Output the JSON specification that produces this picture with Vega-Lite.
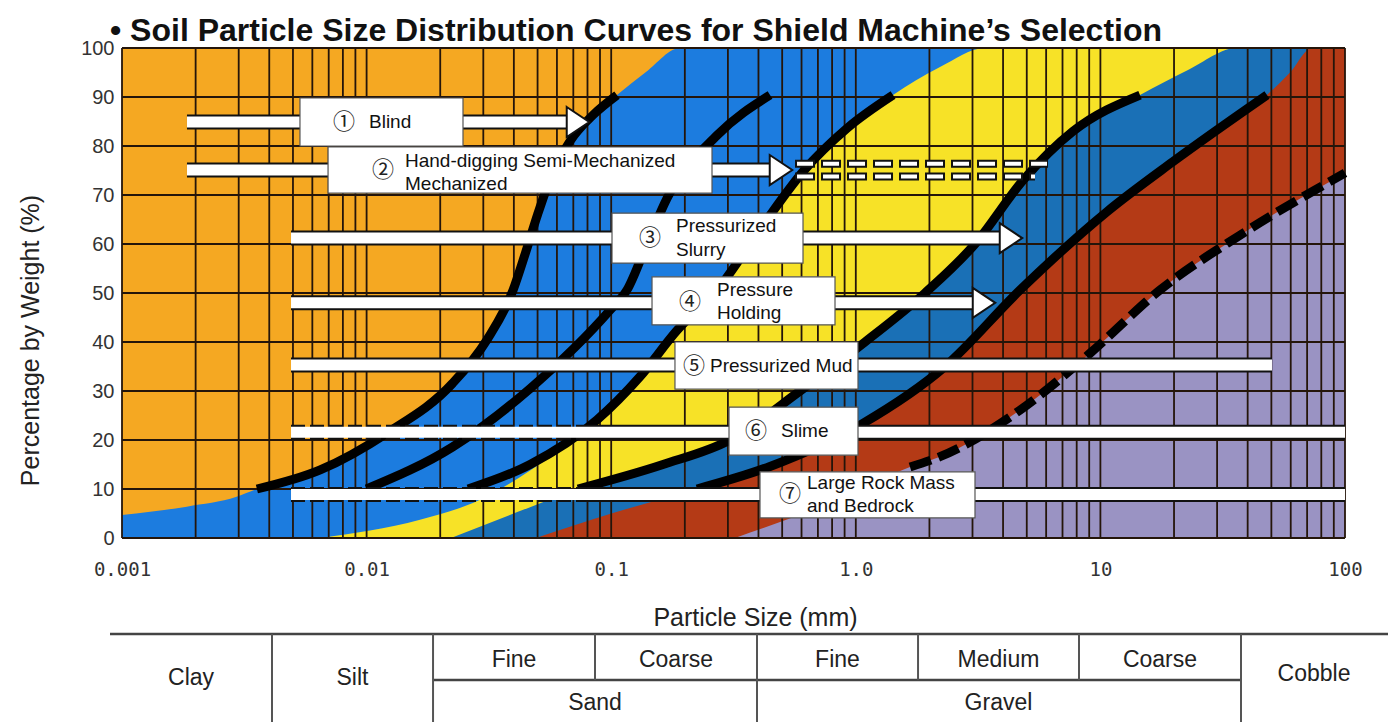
{
  "$schema": "https://vega.github.io/schema/vega-lite/v6.json",
  "width": 1223,
  "height": 490,
  "autosize": {"type": "none"},
  "padding": {"left": 122, "top": 48, "right": 43, "bottom": 184},
  "background": "white",
  "view": {"fill": "#F5A822", "stroke": null},
  "title": {
    "text": "• Soil Particle Size Distribution Curves for Shield Machine’s Selection",
    "anchor": "start", "frame": "group", "font": "Liberation Sans",
    "fontSize": 32, "fontWeight": "bold", "color": "#111", "offset": 8, "baseline": "alphabetic", "dx": -12, "dy": 43
  },
  "datasets": {
    "blue": [
      {"x": 0.001, "y": 4.7}, {"x": 0.00184, "y": 6.4}, {"x": 0.00294, "y": 8.4}, {"x": 0.00356, "y": 10},
      {"x": 0.00646, "y": 13.9}, {"x": 0.0121, "y": 21.4}, {"x": 0.0225, "y": 31.6}, {"x": 0.031, "y": 40.4},
      {"x": 0.0397, "y": 50.6}, {"x": 0.0445, "y": 58}, {"x": 0.05, "y": 66}, {"x": 0.057, "y": 74},
      {"x": 0.0679, "y": 81}, {"x": 0.085, "y": 86.5}, {"x": 0.1056, "y": 90.4}, {"x": 0.1396, "y": 95.2},
      {"x": 0.191, "y": 100}, {"x": 100, "y": 100}
    ],
    "yellow": [
      {"x": 0.00646, "y": 0}, {"x": 0.01653, "y": 3.7}, {"x": 0.02908, "y": 7.8}, {"x": 0.0466, "y": 13.8},
      {"x": 0.0875, "y": 24.1}, {"x": 0.131, "y": 32.9}, {"x": 0.186, "y": 42.4}, {"x": 0.271, "y": 50.6},
      {"x": 0.418, "y": 63.9}, {"x": 0.609, "y": 74.8}, {"x": 0.92, "y": 83.6}, {"x": 1.42, "y": 90.4},
      {"x": 2.209, "y": 96.1}, {"x": 3.375, "y": 100}, {"x": 100, "y": 100}
    ],
    "teal": [
      {"x": 0.02214, "y": 0}, {"x": 0.0466, "y": 6.3}, {"x": 0.07315, "y": 10}, {"x": 0.16278, "y": 15},
      {"x": 0.30598, "y": 20}, {"x": 0.59131, "y": 30}, {"x": 1.0904, "y": 40}, {"x": 1.9183, "y": 50},
      {"x": 3.0711, "y": 60}, {"x": 4.8273, "y": 73}, {"x": 7.7268, "y": 83}, {"x": 14.522, "y": 90.4},
      {"x": 22.81, "y": 95.5}, {"x": 36.18, "y": 100}, {"x": 100, "y": 100}
    ],
    "red": [
      {"x": 0.04928, "y": 0}, {"x": 0.10172, "y": 5.1}, {"x": 0.22429, "y": 10}, {"x": 0.44588, "y": 14.6},
      {"x": 1.0701, "y": 23.4}, {"x": 2.3156, "y": 35}, {"x": 4.6924, "y": 50.6}, {"x": 10.642, "y": 66.6},
      {"x": 19.809, "y": 76.8}, {"x": 47.983, "y": 90.4}, {"x": 59.6, "y": 95}, {"x": 73.3, "y": 100},
      {"x": 100, "y": 100}
    ],
    "purple": [
      {"x": 0.3207, "y": 0}, {"x": 0.8618, "y": 8}, {"x": 1.666, "y": 14.5}, {"x": 2.209, "y": 16.6},
      {"x": 4.692, "y": 26.1}, {"x": 9.069, "y": 37.7}, {"x": 17.52, "y": 50.6}, {"x": 37.21, "y": 61.8},
      {"x": 100, "y": 74.5}
    ],
    "gridx": [
      {"x": 0.001}, {"x": 0.002}, {"x": 0.003}, {"x": 0.004}, {"x": 0.005}, {"x": 0.006}, {"x": 0.007}, {"x": 0.008}, {"x": 0.009},
      {"x": 0.01}, {"x": 0.02}, {"x": 0.03}, {"x": 0.04}, {"x": 0.05}, {"x": 0.06}, {"x": 0.07}, {"x": 0.08}, {"x": 0.09},
      {"x": 0.1}, {"x": 0.2}, {"x": 0.3}, {"x": 0.4}, {"x": 0.5}, {"x": 0.6}, {"x": 0.7}, {"x": 0.8}, {"x": 0.9},
      {"x": 1}, {"x": 2}, {"x": 3}, {"x": 4}, {"x": 5}, {"x": 6}, {"x": 7}, {"x": 8}, {"x": 9},
      {"x": 10}, {"x": 20}, {"x": 30}, {"x": 40}, {"x": 50}, {"x": 60}, {"x": 70}, {"x": 80}, {"x": 90}, {"x": 100}
    ],
    "gridy": [
      {"y": 0}, {"y": 10}, {"y": 20}, {"y": 30}, {"y": 40}, {"y": 50}, {"y": 60}, {"y": 70}, {"y": 80}, {"y": 90}, {"y": 100}
    ],
    "curves": [
      {"curve": "1", "x": 0.00356, "y": 10}, {"curve": "1", "x": 0.00646, "y": 13.9}, {"curve": "1", "x": 0.0121, "y": 21.4},
      {"curve": "1", "x": 0.0225, "y": 31.6}, {"curve": "1", "x": 0.031, "y": 40.4}, {"curve": "1", "x": 0.0397, "y": 50.6},
      {"curve": "1", "x": 0.0445, "y": 58}, {"curve": "1", "x": 0.05, "y": 66}, {"curve": "1", "x": 0.057, "y": 74},
      {"curve": "1", "x": 0.0679, "y": 81}, {"curve": "1", "x": 0.085, "y": 86.5}, {"curve": "1", "x": 0.1056, "y": 90.4},
      {"curve": "2", "x": 0.01, "y": 10}, {"curve": "2", "x": 0.0225, "y": 18.6}, {"curve": "2", "x": 0.0466, "y": 30.5},
      {"curve": "2", "x": 0.0989, "y": 46.5}, {"curve": "2", "x": 0.116, "y": 50.6}, {"curve": "2", "x": 0.14, "y": 60},
      {"curve": "2", "x": 0.169, "y": 69.3}, {"curve": "2", "x": 0.271, "y": 82.2}, {"curve": "2", "x": 0.446, "y": 90.4},
      {"curve": "3", "x": 0.026, "y": 10}, {"curve": "3", "x": 0.0466, "y": 15}, {"curve": "3", "x": 0.0875, "y": 24.1},
      {"curve": "3", "x": 0.131, "y": 32.9}, {"curve": "3", "x": 0.186, "y": 42.4}, {"curve": "3", "x": 0.271, "y": 50.6},
      {"curve": "3", "x": 0.418, "y": 63.9}, {"curve": "3", "x": 0.609, "y": 74.8}, {"curve": "3", "x": 0.92, "y": 83.6},
      {"curve": "3", "x": 1.42, "y": 90.4},
      {"curve": "4", "x": 0.07315, "y": 10}, {"curve": "4", "x": 0.16278, "y": 15}, {"curve": "4", "x": 0.30598, "y": 20},
      {"curve": "4", "x": 0.59131, "y": 30}, {"curve": "4", "x": 1.0904, "y": 40}, {"curve": "4", "x": 1.9183, "y": 50},
      {"curve": "4", "x": 3.0711, "y": 60}, {"curve": "4", "x": 4.8273, "y": 73}, {"curve": "4", "x": 7.7268, "y": 83},
      {"curve": "4", "x": 14.522, "y": 90.4},
      {"curve": "5", "x": 0.22429, "y": 10}, {"curve": "5", "x": 0.44588, "y": 14.6}, {"curve": "5", "x": 1.0701, "y": 23.4},
      {"curve": "5", "x": 2.3156, "y": 35}, {"curve": "5", "x": 4.6924, "y": 50.6}, {"curve": "5", "x": 10.642, "y": 66.6},
      {"curve": "5", "x": 19.809, "y": 76.8}, {"curve": "5", "x": 47.983, "y": 90.4}
    ],
    "dashedcurve": [
      {"x": 1.666, "y": 14.5}, {"x": 2.209, "y": 16.6}, {"x": 4.692, "y": 26.1}, {"x": 9.069, "y": 37.7},
      {"x": 17.52, "y": 50.6}, {"x": 37.21, "y": 61.8}, {"x": 100, "y": 74.5}
    ],
    "bars": [
      {"x": 0.0018434, "x2": 0.06659, "y": 84.9},
      {"x": 0.0018434, "x2": 0.44998, "y": 75.1},
      {"x": 0.0049086, "x2": 3.9226, "y": 61.2},
      {"x": 0.0049086, "x2": 3.0422, "y": 48.0},
      {"x": 0.0049086, "x2": 50.294, "y": 35.3},
      {"x": 0.0049086, "x2": 100, "y": 21.6},
      {"x": 0.0049086, "x2": 100, "y": 8.9}
    ],
    "baroutline": [
      {"x": 0.0018434, "x2": 0.06659, "y": 84.9},
      {"x": 0.0018434, "x2": 0.44998, "y": 75.1},
      {"x": 0.0049086, "x2": 3.9226, "y": 61.2},
      {"x": 0.0049086, "x2": 3.0422, "y": 48.0},
      {"x": 0.0049086, "x2": 50.294, "y": 35.3},
      {"x": 0.0796, "x2": 100, "y": 21.6},
      {"x": 0.0796, "x2": 100, "y": 8.9}
    ],
    "baroutlinedashed": [
      {"x": 0.0049086, "x2": 0.0796, "y": 21.6},
      {"x": 0.0049086, "x2": 0.0796, "y": 8.9}
    ],
    "arrows": [
      {"x": 0.07315, "y": 84.9}, {"x": 0.49447, "y": 75.1}, {"x": 4.3103, "y": 61.2}, {"x": 3.3433, "y": 48.0}
    ],
    "dashes": [
      {"x": 0.5643, "x2": 6.1065, "y": 76.4}, {"x": 0.5643, "x2": 5.4025, "y": 73.8}
    ],
    "boxes": [
      {"x": 0.005341, "x2": 0.02478, "y": 89.8, "y2": 80.0},
      {"x": 0.006957, "x2": 0.2583, "y": 79.8, "y2": 70.4},
      {"x": 0.10076, "x2": 0.6084, "y": 66.3, "y2": 56.1},
      {"x": 0.14685, "x2": 0.8222, "y": 53.3, "y2": 43.5},
      {"x": 0.18226, "x2": 1.0209, "y": 40.0, "y2": 30.4},
      {"x": 0.30316, "x2": 1.0209, "y": 26.7, "y2": 16.9},
      {"x": 0.4058, "x2": 3.0711, "y": 13.5, "y2": 4.1}
    ],
    "nums": [
      {"x": 0.008083, "y": 84.9, "text": "①"},
      {"x": 0.011668, "y": 75.1, "text": "②"},
      {"x": 0.1441, "y": 61.2, "text": "③"},
      {"x": 0.21004, "y": 48.2, "text": "④"},
      {"x": 0.21807, "y": 35.1, "text": "⑤"},
      {"x": 0.39084, "y": 21.8, "text": "⑥"},
      {"x": 0.53827, "y": 9.0, "text": "⑦"}
    ],
    "labels": [
      {"x": 0.010228, "y": 84.9, "text": "Blind"},
      {"x": 0.014355, "y": 76.9, "text": "Hand-digging Semi-Mechanized"},
      {"x": 0.014355, "y": 72.2, "text": "Mechanized"},
      {"x": 0.184, "y": 63.7, "text": "Pressurized"},
      {"x": 0.184, "y": 58.8, "text": "Slurry"},
      {"x": 0.27073, "y": 50.6, "text": "Pressure"},
      {"x": 0.27073, "y": 45.9, "text": "Holding"},
      {"x": 0.2534, "y": 35.1, "text": "Pressurized Mud"},
      {"x": 0.49447, "y": 21.8, "text": "Slime"},
      {"x": 0.63168, "y": 11.2, "text": "Large Rock Mass"},
      {"x": 0.63168, "y": 6.5, "text": "and Bedrock"}
    ],
    "table_h": [
      {"x": 0.0008932, "x2": 149.91, "y": -19.6},
      {"x": 0.01869, "x2": 37.571, "y": -29.0}
    ],
    "table_v": [
      {"x": 0.0041043, "y": -19.6, "y2": -38.5},
      {"x": 0.01869, "y": -19.6, "y2": -38.5},
      {"x": 0.085848, "y": -19.6, "y2": -29.0},
      {"x": 0.39454, "y": -19.6, "y2": -38.5},
      {"x": 1.7965, "y": -19.6, "y2": -29.0},
      {"x": 8.1751, "y": -19.6, "y2": -29.0},
      {"x": 37.571, "y": -19.6, "y2": -38.5}
    ],
    "table_text": [
      {"x": 0.0019153, "y": -28.6, "text": "Clay"},
      {"x": 0.0087563, "y": -28.6, "text": "Silt"},
      {"x": 0.040053, "y": -24.9, "text": "Fine"},
      {"x": 0.1841, "y": -24.9, "text": "Coarse"},
      {"x": 0.84158, "y": -24.9, "text": "Fine"},
      {"x": 3.8316, "y": -24.9, "text": "Medium"},
      {"x": 17.523, "y": -24.9, "text": "Coarse"},
      {"x": 74.682, "y": -27.8, "text": "Cobble"},
      {"x": 0.085848, "y": -33.7, "text": "Sand"},
      {"x": 3.8316, "y": -33.7, "text": "Gravel"}
    ]
  },
  "layer": [
    {
      "data": {"name": "blue"},
      "mark": {"type": "area", "interpolate": "monotone", "color": "#1C7CDF", "opacity": 1},
      "encoding": {
        "x": {
          "field": "x", "type": "quantitative",
          "scale": {"type": "log", "domain": [0.001, 100], "nice": false},
          "axis": {
            "values": [0.001, 0.01, 0.1, 1, 10, 100],
            "labelExpr": "datum.value < 0.005 ? '0.001' : datum.value < 0.05 ? '0.01' : datum.value < 0.5 ? '0.1' : datum.value < 5 ? '1.0' : datum.value < 50 ? '10' : '100'",
            "grid": false, "domain": false, "ticks": false,
            "labelFont": "DejaVu Sans Mono", "labelFontSize": 19, "labelColor": "#333",
            "labelPadding": 22, "labelFlush": false, "labelOverlap": false,
            "title": "Particle Size (mm)", "titleFont": "Liberation Sans", "titleFontSize": 25,
            "titleFontWeight": "normal", "titleColor": "#222", "titleX": 633, "titleY": 79,
            "titleAlign": "center", "titleBaseline": "middle"
          }
        },
        "y": {
          "field": "y", "type": "quantitative",
          "scale": {"domain": [0, 100], "nice": false, "zero": false},
          "axis": {
            "values": [0, 10, 20, 30, 40, 50, 60, 70, 80, 90, 100],
            "grid": false, "domain": false, "ticks": false,
            "labelFont": "Liberation Sans", "labelFontSize": 20, "labelColor": "#333", "labelPadding": 8,
            "title": "Percentage by Weight (%)", "titleFont": "Liberation Sans", "titleFontSize": 25,
            "titleFontWeight": "normal", "titleColor": "#222", "titleX": -92, "titleY": 292,
            "titleAlign": "center", "titleBaseline": "middle", "titleAngle": -90
          }
        },
        "y2": {"datum": 0}
      }
    },
    {
      "data": {"name": "yellow"},
      "mark": {"type": "area", "interpolate": "monotone", "color": "#F7E227", "opacity": 1},
      "encoding": {
        "x": {"field": "x", "type": "quantitative"},
        "y": {"field": "y", "type": "quantitative"},
        "y2": {"datum": 0}
      }
    },
    {
      "data": {"name": "teal"},
      "mark": {"type": "area", "interpolate": "monotone", "color": "#1A70B6", "opacity": 1},
      "encoding": {
        "x": {"field": "x", "type": "quantitative"},
        "y": {"field": "y", "type": "quantitative"},
        "y2": {"datum": 0}
      }
    },
    {
      "data": {"name": "red"},
      "mark": {"type": "area", "interpolate": "monotone", "color": "#B43A16", "opacity": 1},
      "encoding": {
        "x": {"field": "x", "type": "quantitative"},
        "y": {"field": "y", "type": "quantitative"},
        "y2": {"datum": 0}
      }
    },
    {
      "data": {"name": "purple"},
      "mark": {"type": "area", "interpolate": "monotone", "color": "#9A93C3", "opacity": 1},
      "encoding": {
        "x": {"field": "x", "type": "quantitative"},
        "y": {"field": "y", "type": "quantitative"},
        "y2": {"datum": 0}
      }
    },
    {
      "data": {"name": "gridx"},
      "mark": {"type": "rule", "color": "#24150a", "strokeWidth": 1.8},
      "encoding": {"x": {"field": "x", "type": "quantitative"}}
    },
    {
      "data": {"name": "gridy"},
      "mark": {"type": "rule", "color": "#24150a", "strokeWidth": 1.8},
      "encoding": {"y": {"field": "y", "type": "quantitative"}}
    },
    {
      "data": {"name": "curves"},
      "mark": {"type": "line", "interpolate": "monotone", "color": "#000", "strokeWidth": 9},
      "encoding": {
        "x": {"field": "x", "type": "quantitative"},
        "y": {"field": "y", "type": "quantitative"},
        "detail": {"field": "curve"}
      }
    },
    {
      "data": {"name": "dashedcurve"},
      "mark": {"type": "line", "interpolate": "monotone", "color": "#000", "strokeWidth": 9, "strokeDash": [22, 8]},
      "encoding": {
        "x": {"field": "x", "type": "quantitative"},
        "y": {"field": "y", "type": "quantitative"}
      }
    },
    {
      "data": {"name": "baroutline"},
      "mark": {"type": "rule", "color": "#111", "strokeWidth": 15},
      "encoding": {
        "x": {"field": "x", "type": "quantitative"},
        "x2": {"field": "x2"},
        "y": {"field": "y", "type": "quantitative"}
      }
    },
    {
      "data": {"name": "baroutlinedashed"},
      "mark": {"type": "rule", "color": "#111", "strokeWidth": 15, "strokeDash": [14, 5]},
      "encoding": {
        "x": {"field": "x", "type": "quantitative"},
        "x2": {"field": "x2"},
        "y": {"field": "y", "type": "quantitative"}
      }
    },
    {
      "data": {"name": "bars"},
      "mark": {"type": "rule", "color": "#ffffff", "strokeWidth": 11},
      "encoding": {
        "x": {"field": "x", "type": "quantitative"},
        "x2": {"field": "x2"},
        "y": {"field": "y", "type": "quantitative"}
      }
    },
    {
      "data": {"name": "dashes"},
      "mark": {"type": "rule", "color": "#111", "strokeWidth": 8, "strokeDash": [20, 6]},
      "encoding": {
        "x": {"field": "x", "type": "quantitative"},
        "x2": {"field": "x2"},
        "y": {"field": "y", "type": "quantitative"}
      }
    },
    {
      "data": {"name": "dashes"},
      "mark": {"type": "rule", "color": "#ffffff", "strokeWidth": 4, "strokeDash": [16, 10], "strokeDashOffset": 24},
      "encoding": {
        "x": {"field": "x", "type": "quantitative"},
        "x2": {"field": "x2"},
        "y": {"field": "y", "type": "quantitative"}
      }
    },
    {
      "data": {"name": "arrows"},
      "mark": {"type": "point", "shape": "M-0.75,-1L0.75,0L-0.75,1Z", "filled": true, "color": "#ffffff", "stroke": "#111", "strokeWidth": 2, "size": 900, "opacity": 1},
      "encoding": {
        "x": {"field": "x", "type": "quantitative"},
        "y": {"field": "y", "type": "quantitative"}
      }
    },
    {
      "data": {"name": "boxes"},
      "mark": {"type": "rect", "color": "#ffffff", "stroke": "#555", "strokeWidth": 1.2, "opacity": 1},
      "encoding": {
        "x": {"field": "x", "type": "quantitative"},
        "x2": {"field": "x2"},
        "y": {"field": "y", "type": "quantitative"},
        "y2": {"field": "y2"}
      }
    },
    {
      "data": {"name": "nums"},
      "mark": {"type": "text", "font": "Noto Sans CJK JP", "fontSize": 22, "color": "#222", "align": "center", "baseline": "middle"},
      "encoding": {
        "x": {"field": "x", "type": "quantitative"},
        "y": {"field": "y", "type": "quantitative"},
        "text": {"field": "text"}
      }
    },
    {
      "data": {"name": "labels"},
      "mark": {"type": "text", "font": "Liberation Sans", "fontSize": 19, "color": "#111", "align": "left", "baseline": "middle"},
      "encoding": {
        "x": {"field": "x", "type": "quantitative"},
        "y": {"field": "y", "type": "quantitative"},
        "text": {"field": "text"}
      }
    },
    {
      "data": {"name": "table_h"},
      "mark": {"type": "rule", "color": "#444", "strokeWidth": 2.5},
      "encoding": {
        "x": {"field": "x", "type": "quantitative"},
        "x2": {"field": "x2"},
        "y": {"field": "y", "type": "quantitative"}
      }
    },
    {
      "data": {"name": "table_v"},
      "mark": {"type": "rule", "color": "#555", "strokeWidth": 2},
      "encoding": {
        "x": {"field": "x", "type": "quantitative"},
        "y": {"field": "y", "type": "quantitative"},
        "y2": {"field": "y2"}
      }
    },
    {
      "data": {"name": "table_text"},
      "mark": {"type": "text", "font": "Liberation Sans", "fontSize": 23, "color": "#222", "align": "center", "baseline": "middle"},
      "encoding": {
        "x": {"field": "x", "type": "quantitative"},
        "y": {"field": "y", "type": "quantitative"},
        "text": {"field": "text"}
      }
    }
  ]
}
